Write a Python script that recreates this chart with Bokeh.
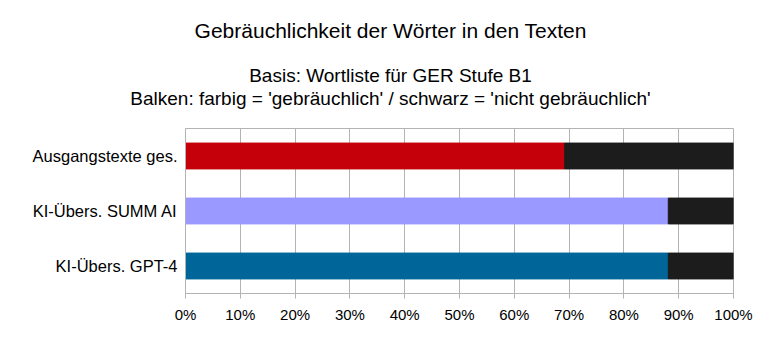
from bokeh.plotting import figure
from bokeh.models import ColumnDataSource, FactorRange, Div, FixedTicker, CustomJSTickFormatter
from bokeh.layouts import column
from bokeh.embed import file_html
from bokeh.resources import INLINE

categories = ["Ausgangstexte ges.", "KI-Übers. SUMM AI", "KI-Übers. GPT-4"]
common_pct = [69.2, 88.1, 88.1]
bar_colors = ["#C5000B", "#9999FF", "#00669A"]
ticks = [0, 10, 20, 30, 40, 50, 60, 70, 80, 90, 100]
title_text = "Gebräuchlichkeit der Wörter in den Texten"
subtitle_lines = ["Basis: Wortliste für GER Stufe B1",
                  "Balken: farbig = 'gebräuchlich' / schwarz = 'nicht gebräuchlich'"]

rare_pct = [100 - v for v in common_pct]

src = ColumnDataSource(dict(cat=categories, common=common_pct,
                            total=[c + r for c, r in zip(common_pct, rare_pct)], color=bar_colors))

W, H = 781, 351
HEAD = 120
FL, FR, FT, FB = 185, 733, 128, 293

def line_html(txt, center_y, size):
    top = center_y - size / 2
    return (f'<div style="position:absolute; left:0; top:{top}px; width:{W}px; text-align:center; '
            f'font-family:\'Liberation Sans\'; font-size:{size}px; line-height:{size}px; '
            f'color:#000; white-space:nowrap;">{txt}</div>')

html = (f'<div style="position:relative; width:{W}px; height:{HEAD}px; margin:0; padding:0;">'
        + line_html(title_text, 30, 21)
        + line_html(subtitle_lines[0], 75, 19)
        + line_html(subtitle_lines[1], 98, 19)
        + '</div>')
head = Div(text=html, width=W, height=HEAD, margin=0)

p = figure(width=W, height=H - HEAD, output_backend="svg", toolbar_location=None,
           y_range=FactorRange(factors=categories[::-1], range_padding=0),
           x_range=(0, 100), title=None, margin=0,
           min_border_left=FL, min_border_right=W - FR, min_border_bottom=H - FB,
           min_border_top=FT - HEAD)

p.hbar(y="cat", left=0, right="common", height=0.47, color="color", source=src)
p.hbar(y="cat", left="common", right="total", height=0.47, color="#1C1C1C", source=src)

p.xaxis.ticker = FixedTicker(ticks=ticks)
p.xaxis.formatter = CustomJSTickFormatter(code="return tick.toFixed(0) + '%';")
for ax in [p.xaxis[0], p.yaxis[0]]:
    ax.axis_line_color = "#b3b3b3"
    ax.major_tick_line_color = "#b3b3b3"
    ax.minor_tick_line_color = None
    ax.major_label_text_font = "Liberation Sans"
    ax.major_label_text_color = "#000000"
p.xaxis.major_label_text_font_size = "15px"
p.yaxis.major_label_text_font_size = "16.5px"
p.xaxis.major_tick_in = 0
p.xaxis.major_tick_out = 5
p.xaxis.major_label_standoff = 7
p.yaxis.major_tick_in = 0
p.yaxis.major_tick_out = 0
p.yaxis.major_tick_line_color = None
p.yaxis.major_label_standoff = 8

p.xgrid.grid_line_color = "#b3b3b3"
p.ygrid.grid_line_color = None
p.outline_line_color = "#b3b3b3"
p.background_fill_color = "white"
p.border_fill_color = "white"

layout = column(head, p, spacing=0, margin=0)
open("out.html", "w").write(file_html(layout, INLINE))
